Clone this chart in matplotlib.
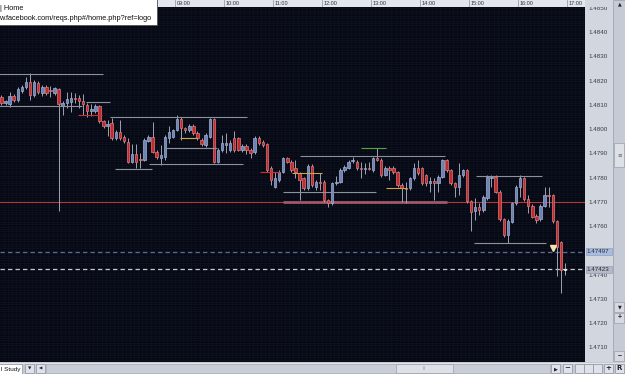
import numpy as np
import matplotlib
matplotlib.use("Agg")
import matplotlib.pyplot as plt
from matplotlib.patches import Rectangle

plt.rcParams['font.family'] = ['Liberation Sans', 'DejaVu Sans']

# ---------------- data (5-minute bars) ----------------
FIRST_BAR = "05:25"
BAR_MINUTES = 5

opens = [1.48135, 1.48108, 1.48106, 1.48137, 1.48122, 1.48160, 1.48174, 1.48197, 1.48143, 1.48193,
         1.48151, 1.48174, 1.48164, 1.48153, 1.48168, 1.48096, 1.48110, 1.48116, 1.48129, 1.48129,
         1.48120, 1.48102, 1.48077, 1.48075, 1.48098, 1.48034, 1.48013, 1.48028, 1.47964, 1.47992,
         1.47971, 1.47950, 1.47868, 1.47900, 1.47877, 1.47875, 1.47954, 1.47969, 1.47909, 1.47883,
         1.47887, 1.47964, 1.47971, 1.47999, 1.48042, 1.48006, 1.47997, 1.48015, 1.47985, 1.47957,
         1.47937, 1.47971, 1.48043, 1.47868, 1.47916, 1.47937, 1.47916, 1.47964, 1.47964, 1.47916,
         1.47933, 1.47916, 1.47909, 1.47964, 1.47950, 1.47940, 1.47841, 1.47765, 1.47792, 1.47827,
         1.47882, 1.47868, 1.47841, 1.47820, 1.47799, 1.47758, 1.47851, 1.47765, 1.47784, 1.47785,
         1.47710, 1.47696, 1.47779, 1.47785, 1.47834, 1.47843, 1.47869, 1.47868, 1.47842, 1.47838,
         1.47842, 1.47834, 1.47882, 1.47875, 1.47813, 1.47843, 1.47843, 1.47824, 1.47772, 1.47759,
         1.47758, 1.47799, 1.47841, 1.47841, 1.47813, 1.47779, 1.47788, 1.47779, 1.47806, 1.47875,
         1.47834, 1.47779, 1.47765, 1.47813, 1.47834, 1.47706, 1.47664, 1.47682, 1.47668, 1.47717,
         1.47799, 1.47806, 1.47744, 1.47631, 1.47565, 1.47620, 1.47696, 1.47765, 1.47799, 1.47714,
         1.47686, 1.47645, 1.47631, 1.47686, 1.47732, 1.47730, 1.47623, 1.47535, 1.47421]
highs = [1.48143, 1.48122, 1.48155, 1.48147, 1.48176, 1.48184, 1.48217, 1.48234, 1.48205, 1.48201,
         1.48184, 1.48184, 1.48180, 1.48176, 1.48172, 1.48118, 1.48155, 1.48155, 1.48151, 1.48143,
         1.48147, 1.48110, 1.48106, 1.48106, 1.48102, 1.48040, 1.48040, 1.48048, 1.47999, 1.48040,
         1.47978, 1.47966, 1.47941, 1.47941, 1.47905, 1.47966, 1.47978, 1.48033, 1.47916, 1.47937,
         1.47978, 1.48015, 1.48003, 1.48061, 1.48052, 1.48011, 1.48023, 1.48023, 1.47995, 1.47966,
         1.47986, 1.48048, 1.48048, 1.47924, 1.47978, 1.47986, 1.47957, 1.47995, 1.47970, 1.47941,
         1.47941, 1.47924, 1.47974, 1.47974, 1.47957, 1.47945, 1.47850, 1.47827, 1.47834, 1.47887,
         1.47887, 1.47875, 1.47875, 1.47825, 1.47805, 1.47858, 1.47858, 1.47792, 1.47821, 1.47792,
         1.47714, 1.47784, 1.47809, 1.47842, 1.47854, 1.47875, 1.47887, 1.47875, 1.47867, 1.47862,
         1.47867, 1.47887, 1.47926, 1.47883, 1.47850, 1.47850, 1.47850, 1.47829, 1.47780, 1.47785,
         1.47805, 1.47862, 1.47875, 1.47846, 1.47817, 1.47806, 1.47801, 1.47813, 1.47879, 1.47879,
         1.47838, 1.47784, 1.47862, 1.47838, 1.47838, 1.47710, 1.47718, 1.47697, 1.47730, 1.47813,
         1.47813, 1.47813, 1.47751, 1.47635, 1.47631, 1.47702, 1.47772, 1.47813, 1.47805, 1.47730,
         1.47693, 1.47652, 1.47693, 1.47765, 1.47765, 1.47735, 1.47627, 1.47541, 1.47450]
lows = [1.48102, 1.48100, 1.48094, 1.48114, 1.48114, 1.48151, 1.48168, 1.48122, 1.48135, 1.48147,
        1.48139, 1.48143, 1.48135, 1.48143, 1.47664, 1.48061, 1.48089, 1.48073, 1.48110, 1.48089,
        1.48061, 1.48052, 1.48056, 1.48069, 1.48028, 1.48007, 1.47974, 1.47957, 1.47957, 1.47957,
        1.47945, 1.47862, 1.47862, 1.47842, 1.47841, 1.47871, 1.47949, 1.47904, 1.47879, 1.47854,
        1.47875, 1.47945, 1.47966, 1.47995, 1.47957, 1.47986, 1.47990, 1.47978, 1.47957, 1.47933,
        1.47928, 1.47966, 1.47862, 1.47862, 1.47908, 1.47904, 1.47908, 1.47908, 1.47912, 1.47908,
        1.47900, 1.47883, 1.47900, 1.47937, 1.47928, 1.47825, 1.47772, 1.47759, 1.47784, 1.47821,
        1.47862, 1.47825, 1.47801, 1.47710, 1.47751, 1.47751, 1.47763, 1.47751, 1.47751, 1.47702,
        1.47681, 1.47689, 1.47772, 1.47780, 1.47825, 1.47838, 1.47862, 1.47834, 1.47801, 1.47817,
        1.47834, 1.47825, 1.47871, 1.47805, 1.47809, 1.47792, 1.47817, 1.47763, 1.47702, 1.47697,
        1.47751, 1.47792, 1.47813, 1.47772, 1.47768, 1.47743, 1.47710, 1.47743, 1.47801, 1.47825,
        1.47772, 1.47722, 1.47730, 1.47805, 1.47697, 1.47582, 1.47627, 1.47648, 1.47660, 1.47710,
        1.47763, 1.47739, 1.47623, 1.47557, 1.47531, 1.47615, 1.47689, 1.47722, 1.47706, 1.47656,
        1.47635, 1.47615, 1.47623, 1.47681, 1.47682, 1.47615, 1.47396, 1.47325, 1.47400]
closes = [1.48108, 1.48118, 1.48139, 1.48122, 1.48168, 1.48174, 1.48197, 1.48143, 1.48197, 1.48155,
          1.48174, 1.48153, 1.48161, 1.48170, 1.48104, 1.48108, 1.48127, 1.48131, 1.48127, 1.48118,
          1.48104, 1.48075, 1.48087, 1.48096, 1.48034, 1.48013, 1.48025, 1.47964, 1.47992, 1.47964,
          1.47953, 1.47867, 1.47900, 1.47868, 1.47873, 1.47957, 1.47969, 1.47909, 1.47888, 1.47895,
          1.47970, 1.47992, 1.47999, 1.48042, 1.48005, 1.47997, 1.48015, 1.47986, 1.47964, 1.47939,
          1.47978, 1.48043, 1.47868, 1.47916, 1.47943, 1.47943, 1.47946, 1.47916, 1.47916, 1.47934,
          1.47916, 1.47902, 1.47964, 1.47944, 1.47937, 1.47834, 1.47792, 1.47799, 1.47827, 1.47882,
          1.47868, 1.47834, 1.47827, 1.47792, 1.47758, 1.47851, 1.47772, 1.47785, 1.47780, 1.47710,
          1.47696, 1.47779, 1.47785, 1.47834, 1.47847, 1.47865, 1.47873, 1.47841, 1.47838, 1.47842,
          1.47838, 1.47882, 1.47875, 1.47813, 1.47843, 1.47834, 1.47824, 1.47772, 1.47758, 1.47755,
          1.47799, 1.47841, 1.47821, 1.47779, 1.47779, 1.47788, 1.47779, 1.47806, 1.47875, 1.47834,
          1.47779, 1.47765, 1.47813, 1.47834, 1.47706, 1.47661, 1.47682, 1.47668, 1.47723, 1.47806,
          1.47806, 1.47744, 1.47631, 1.47565, 1.47623, 1.47696, 1.47765, 1.47799, 1.47714, 1.47686,
          1.47641, 1.47627, 1.47686, 1.47730, 1.47728, 1.47623, 1.47516, 1.47421, 1.47423]

# 1.4750 is hidden behind the order-level tag in the reference
price_ticks = [1.4710, 1.4720, 1.4730, 1.4740, 1.4760, 1.4770, 1.4780,
               1.4790, 1.4800, 1.4810, 1.4820, 1.4830, 1.4840, 1.4850]
hour_labels = ["06:00", "07:00", "08:00", "09:00", "10:00", "11:00",
               "12:00", "13:00", "14:00", "15:00", "16:00", "17:00"]

# hand-drawn support / resistance segments
seg_start = ["05:25", "05:25", "07:11", "07:01", "07:40", "07:47", "08:28", "08:48", "09:06",
             "10:44", "11:33", "11:12", "11:23", "13:18", "12:48", "15:09", "15:06"]
seg_end = ["07:32", "07:06", "07:40", "07:31", "10:28", "08:32", "10:23", "09:51", "09:27",
           "11:09", "14:31", "13:06", "12:00", "13:44", "13:18", "16:29", "16:34"]
seg_price = [1.48230, 1.48096, 1.48112, 1.48061, 1.48051, 1.47836, 1.47857, 1.47926, 1.47967,
             1.47824, 1.47893, 1.47742, 1.47822, 1.47760, 1.47926, 1.47810, 1.47531]
seg_kind = ["grey", "grey", "grey", "red", "grey", "grey", "grey", "grey", "yellow",
            "red", "grey", "grey", "yellow", "yellow", "green", "grey", "grey"]

zone_start, zone_end, zone_price = "11:12", "14:33", 1.4770
red_level = 1.4770
order_level = 1.47497
bid_level = 1.47423
marker_bar = 135
marker_price = 1.47510

# ---------------- helpers ----------------
def to_min(s):
    h, m = s.split(":")
    return int(h) * 60 + int(m)

W, H = 625, 374
fig = plt.figure(figsize=(W / 100, H / 100), dpi=100)
fig.patch.set_facecolor("#c6cbd6")

def frac(x0, y0, x1, y1):
    return [x0 / W, 1 - y1 / H, (x1 - x0) / W, (y1 - y0) / H]

XLIM = (325.7, 1042.0)
YLIM = (1.47041, 1.48506)

ax = fig.add_axes(frac(0, 7, 585, 362))
ax.set_facecolor("#060812")
ax.set_xlim(*XLIM)
ax.set_ylim(*YLIM)
for s in ax.spines.values():
    s.set_visible(False)
ax.set_xticks([])
ax.set_yticks([])

# fine background mesh
for gx in np.arange(325, 1045, 5):
    ax.axvline(gx, color="#0f1322", lw=0.45, zorder=0)
for gy in np.arange(1.4704, 1.4851, 0.0001):
    ax.axhline(gy, color="#0f1322", lw=0.45, zorder=0)

n = len(opens)
t0 = to_min(FIRST_BAR)
xs = t0 + BAR_MINUTES * np.arange(n) + BAR_MINUTES / 2
o = np.array(opens); h = np.array(highs); l = np.array(lows); c = np.array(closes)

ax.vlines(xs, l, h, color="#9ea4b3", lw=0.7, zorder=3)
bull = c >= o
body_lo = np.minimum(o, c)
body_h = np.maximum(np.abs(c - o), 0.00003)
cols = np.where(bull, "#6d83b6", "#c32a2e")
edges = np.where(bull, "#a3b1d2", "#e07a7a")
cols[-1] = "#e6e6e6"
edges[-1] = "#ffffff"
ax.bar(xs, body_h, bottom=body_lo, width=3.0, color=cols, edgecolor=edges,
       linewidth=0.5, zorder=4)

# long red level
ax.axhline(red_level, color="#b23a3a", lw=0.8, zorder=2)
ax.plot([to_min(zone_start), to_min(zone_end)], [zone_price, zone_price],
        color="#a05868", lw=2.0, solid_capstyle="butt", zorder=2.5)

kind_color = {"grey": "#8c919e", "red": "#c83232", "yellow": "#c8a848", "green": "#58a040"}
for s0, s1, p, k in zip(seg_start, seg_end, seg_price, seg_kind):
    ax.plot([to_min(s0), to_min(s1)], [p, p], color=kind_color[k], lw=0.8,
            solid_capstyle="butt", zorder=5)

ax.axhline(order_level, color="#566a9e", lw=0.9, ls=(0, (3.5, 2.5)), zorder=2)
ax.axhline(bid_level, color="#c4c6ce", lw=0.9, ls=(0, (3.5, 2.5)), zorder=2)
ax.plot([xs[marker_bar]], [marker_price], marker="v", ms=4.5, color="#f2e4b0",
        mec="#f2e4b0", zorder=6)

# ---------------- price axis ----------------
pax = fig.add_axes(frac(585, 7, 613, 362))
pax.set_facecolor("#d2d6df")
pax.set_xlim(0, 1)
pax.set_ylim(*YLIM)
pax.set_xticks([]); pax.set_yticks([])
for s in pax.spines.values():
    s.set_visible(False)
for p in price_ticks:
    pax.text(0.45, p, f"{p:.4f}", ha="center", va="center", fontsize=4.5, color="#3a3c44")
for lev, fc, ec in [(order_level, "#a9bcdc", "#8aa0c8"), (bid_level, "#b4bac8", "#98a0b2")]:
    pax.add_patch(Rectangle((0.03, lev - 0.00015), 0.94, 0.0003, facecolor=fc,
                            edgecolor=ec, lw=0.5, zorder=5))
    pax.text(0.45, lev, f"{lev:.5f}", ha="center", va="center", fontsize=4.5,
             color="#2a2c34", zorder=6)

# ---------------- time axis ----------------
tax = fig.add_axes(frac(0, 0, 585, 7))
tax.set_facecolor("#e3e6ec")
tax.set_xlim(*XLIM)
tax.set_ylim(0, 1)
tax.set_xticks([]); tax.set_yticks([])
for s in tax.spines.values():
    s.set_visible(False)
for lab in hour_labels:
    hm = to_min(lab)
    tax.axvline(hm, color="#9a9ea8", lw=0.6)
    t = tax.text(hm + 2.5, 0.45, lab, ha="left", va="center", fontsize=4.0, color="#303238")
    t.set_clip_on(True)

# ---------------- window chrome ----------------
ov = fig.add_axes([0, 0, 1, 1])
ov.set_xlim(0, W); ov.set_ylim(H, 0)
ov.axis("off")
ov.patch.set_alpha(0)

# top of price column
ov.add_patch(Rectangle((585, 0), 29, 7, facecolor="#d2d6df", lw=0))
# right scroll column
ov.add_patch(Rectangle((613, 0), 12, 374, facecolor="#c5cad5", edgecolor="#9aa0ad", lw=0.5))
ov.text(619.5, 3.5, "▲", fontsize=3.5, ha="center", va="center", color="#202228",
        family="DejaVu Sans")
ov.add_patch(Rectangle((614, 143), 10, 24, facecolor="#dde0e7", edgecolor="#9aa0ad", lw=0.5))
ov.text(619.5, 155, "≡", fontsize=4, ha="center", va="center", color="#606470",
        family="DejaVu Sans")
ov.add_patch(Rectangle((614, 302), 10, 10, facecolor="#d6d9e1", edgecolor="#9aa0ad", lw=0.5))
ov.text(619.5, 307, "▼", fontsize=3.5, ha="center", va="center", color="#202228",
        family="DejaVu Sans")
ov.add_patch(Rectangle((614, 313), 10, 10, facecolor="#d6d9e1", edgecolor="#9aa0ad", lw=0.5))
ov.text(619.5, 318, "+", fontsize=5, ha="center", va="center", color="#202228",
        weight="bold")
ov.add_patch(Rectangle((614, 351), 10, 10, facecolor="#d6d9e1", edgecolor="#9aa0ad", lw=0.5))
ov.text(619.5, 356, "−", fontsize=5, ha="center", va="center", color="#202228",
        weight="bold")

# bottom toolbar
ov.add_patch(Rectangle((0, 362), 625, 12, facecolor="#c4c9d4", lw=0))
ov.plot([0, 625], [362.5, 362.5], color="#e9ebf0", lw=0.6)
ov.add_patch(Rectangle((-1, 363.5), 23, 10.5, facecolor="#ffffff", edgecolor="#8c92a0", lw=0.5))
ov.text(1, 369, "l Study", fontsize=4.6, ha="left", va="center", color="#101216")
for bx, sym in [(25, "▼"), (36, "◀")]:
    ov.add_patch(Rectangle((bx, 364), 9, 9, facecolor="#dfe2e8", edgecolor="#8c92a0", lw=0.5))
    ov.text(bx + 4.5, 368.5, sym, fontsize=3.2, ha="center", va="center", color="#202228",
            family="DejaVu Sans")
ov.add_patch(Rectangle((46, 364), 504, 9, facecolor="#c9cdd8", edgecolor="#a8adb9", lw=0.5))
ov.add_patch(Rectangle((396, 364), 57, 9, facecolor="#dde0e7", edgecolor="#9aa0ad", lw=0.5))
ov.text(424.5, 368.5, "|||", fontsize=3, ha="center", va="center", color="#8a8e98")
for bx, sym in [(551, "▶"), (563, "−"), (575, ""), (584, ""), (593, ""), (604, "+"), (615, "R")]:
    ov.add_patch(Rectangle((bx, 364), 9, 9, facecolor="#dfe2e8", edgecolor="#8c92a0", lw=0.5))
    if sym:
        ov.text(bx + 4.5, 368.5, sym, fontsize=3.6 if sym == "▶" else 5,
                ha="center", va="center", color="#202228", weight="bold",
                family="DejaVu Sans")

# browser tooltip overlay
ov.add_patch(Rectangle((-2, -2), 159, 27, facecolor="#ffffff", edgecolor="#505258", lw=0.6))
ov.text(0.5, 8, "| Home", fontsize=5.3, ha="left", va="center", color="#101010")
ov.text(-0.5, 18.5, "w.facebook.com/reqs.php#/home.php?ref=logo", fontsize=5.3,
        ha="left", va="center", color="#101010")

fig.savefig("out.png", dpi=100, facecolor=fig.get_facecolor())
